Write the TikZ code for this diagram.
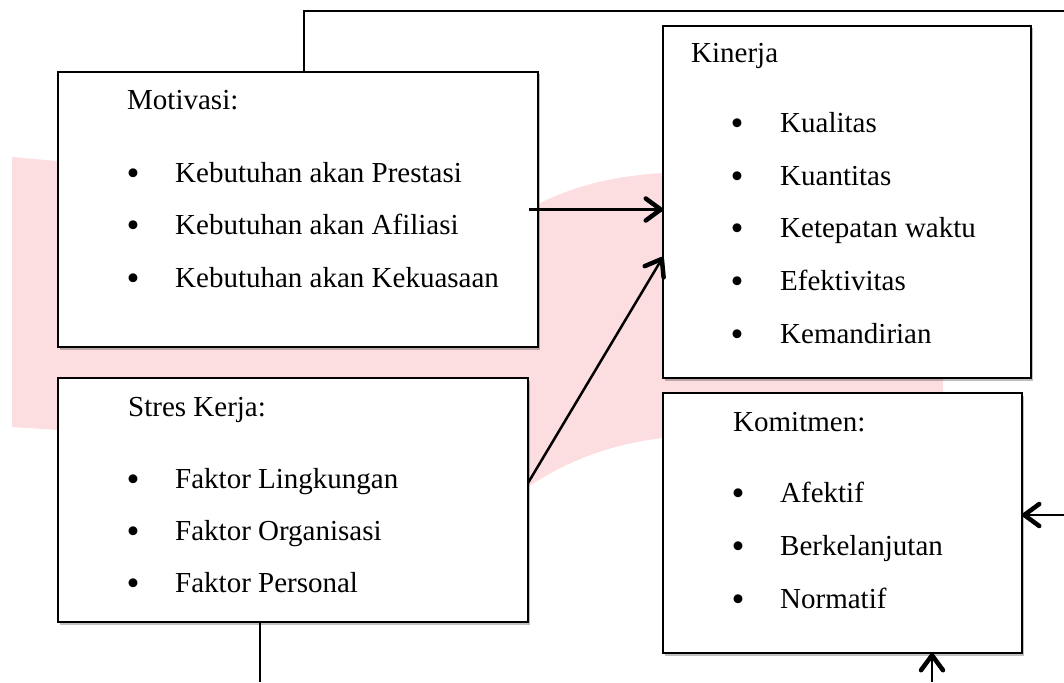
\documentclass[tikz,border=0pt]{standalone}
\usepackage{fontspec}
\setmainfont{Liberation Serif}
\usetikzlibrary{arrows.meta,shadows,calc}
\definecolor{wmpink}{RGB}{253,222,224}
\tikzset{
  box/.style={draw=black, line width=2.5pt, fill=white, inner sep=0pt, outer sep=0pt,
    drop shadow={shadow xshift=1.5pt, shadow yshift=-2.5pt, fill=black, opacity=0.25}},
  txt/.style={anchor=base west, inner sep=0pt, font=\fontsize{29}{34}\selectfont},
  bul/.style={anchor=base, inner sep=0pt, yshift=-3pt, font=\fontsize{37}{40}\selectfont},
  conn/.style={line width=2.5pt},
  arr/.style={line width=2.5pt, -{Straight Barb[length=15pt, width=22pt, line width=4.5pt, round]}}
}
\begin{document}
\begin{tikzpicture}[x=1pt, y=-1pt]
\useasboundingbox (0,0) rectangle (1064,682);
% watermark
\fill[wmpink] (12,157) -- (538,204) .. controls (570,188) and (610,176) .. (663,173)
  -- (943,160) -- (943,470) -- (663,438) .. controls (610,444) and (565,462) .. (528,487)
  -- (58,430) -- (12,427) -- cycle;
% boxes
\node[box, minimum width=480pt, minimum height=275pt] (mot) at (298,209.5) {};
\node[box, minimum width=470pt, minimum height=244pt] (stres) at (293,500) {};
\node[box, minimum width=368pt, minimum height=352pt] (kin) at (847,202) {};
\node[box, minimum width=359pt, minimum height=260pt] (kom) at (842.5,523) {};
% Motivasi text
\node[txt] (motH) at (127,110) {Motivasi:};
\node[bul] (mb1) at (133,182) {•};
\node[txt] (mt1) at (175,182) {Kebutuhan akan Prestasi};
\node[bul] (mb2) at (133,234.5) {•};
\node[txt] (mt2) at (175,234.5) {Kebutuhan akan Afiliasi};
\node[bul] (mb3) at (133,287) {•};
\node[txt] (mt3) at (175,287) {Kebutuhan akan Kekuasaan};
% Stres text
\node[txt] (stH) at (128,416) {Stres Kerja:};
\node[bul] (sb1) at (133,488) {•};
\node[txt] (st1) at (175,488) {Faktor Lingkungan};
\node[bul] (sb2) at (133,540) {•};
\node[txt] (st2) at (175,540) {Faktor Organisasi};
\node[bul] (sb3) at (133,592) {•};
\node[txt] (st3) at (175,592) {Faktor Personal};
% Kinerja text
\node[txt] (kiH) at (691,63) {Kinerja};
\node[bul] (kb1) at (737,132.5) {•};
\node[txt] (kt1) at (780,132.5) {Kualitas};
\node[bul] (kb2) at (737,185) {•};
\node[txt] (kt2) at (780,185) {Kuantitas};
\node[bul] (kb3) at (737,237.5) {•};
\node[txt] (kt3) at (780,237.5) {Ketepatan waktu};
\node[bul] (kb4) at (737,290) {•};
\node[txt] (kt4) at (780,290) {Efektivitas};
\node[bul] (kb5) at (737,343) {•};
\node[txt] (kt5) at (780,343) {Kemandirian};
% Komitmen text
\node[txt] (koH) at (733,431) {Komitmen:};
\node[bul] (ob1) at (738,502) {•};
\node[txt] (ot1) at (780,502) {Afektif};
\node[bul] (ob2) at (738,555) {•};
\node[txt] (ot2) at (780,555) {Berkelanjutan};
\node[bul] (ob3) at (738,608) {•};
\node[txt] (ot3) at (780,608) {Normatif};
% free ends
\coordinate (topL) at (304,11);
\coordinate (topR) at (1064,11);
\coordinate (botL) at (260,682);
\coordinate (botR) at (932,682);
\coordinate (rightE) at (1064,515);
% connectors
\draw[conn] (mot.north -| topL) -- (topL) -- (topR);
\draw[conn] (stres.south -| botL) -- (botL);
\draw[arr] ([xshift=-9pt]mot.east) -- (mot.east -| kin.west);
\draw[arr] ([yshift=-105pt]stres.north east) -- ([yshift=-55pt]kin.west);
\draw[arr] (botR) -- (kom.south -| botR);
\draw[arr] (rightE) -- (kom.east |- rightE);
\end{tikzpicture}
\end{document}
